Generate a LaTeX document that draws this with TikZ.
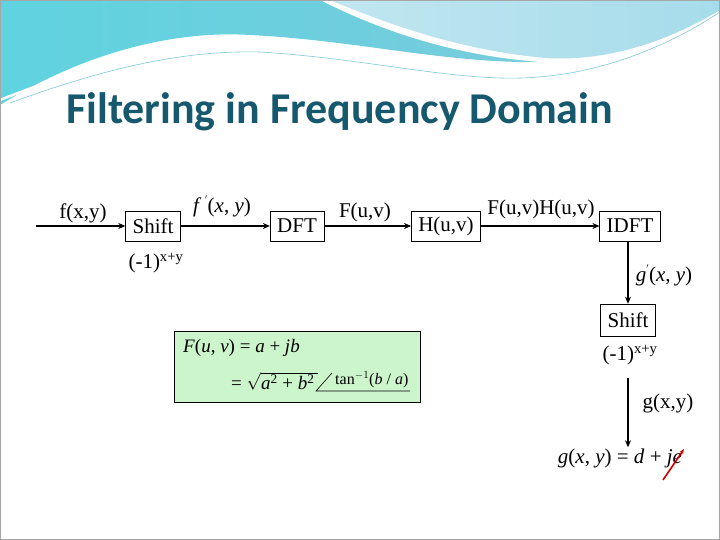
\documentclass[tikz,border=0pt]{standalone}
\usepackage{fontspec}
\setmainfont{Liberation Serif}
\newfontfamily\titlefont{Carlito}
\usetikzlibrary{arrows.meta}
\definecolor{titlec}{HTML}{16586E}
\definecolor{wave1}{HTML}{7FC9DA}
\definecolor{wave2}{HTML}{5FD3E0}
\definecolor{wave3}{HTML}{A6DCEA}
\definecolor{greenbg}{HTML}{CCF5CC}
\newcommand{\iv}[1]{\textit{#1}}
\tikzset{
  blk/.style={draw, line width=0.5pt, minimum height=30pt, inner ysep=3pt, inner xsep=7pt, font=\fontsize{21}{24}\selectfont},
  lbl/.style={font=\fontsize{21}{24}\selectfont, inner sep=1pt},
  eqt/.style={font=\fontsize{19}{21}\selectfont, inner sep=1pt},
  flow/.style={line width=1.6pt, -{Stealth[length=7pt,width=6pt]}},
}
\begin{document}
\begin{tikzpicture}[x=1pt,y=-1pt]
\useasboundingbox (0,0) rectangle (720,540);
\fill[white] (0,0) rectangle (720,540);
% top wave decoration
\shade[left color=wave2, right color=wave1] (0,0) -- (0,105) .. controls (80,55) and (170,30) .. (250,35) .. controls (350,40) and (430,60) .. (520,62) .. controls (600,63) and (680,40) .. (720,18) -- (720,0) -- cycle;
\fill[white] (320,0) .. controls (380,30) and (450,55) .. (540,62) .. controls (600,66) and (660,50) .. (720,22) -- (720,0) -- cycle;
\shade[left color=wave3!70!white, right color=wave3] (330,0) .. controls (390,25) and (460,50) .. (545,58) .. controls (610,62) and (670,40) .. (720,10) -- (720,0) -- cycle;
\draw[white, line width=2.5pt] (0,100) .. controls (100,60) and (180,45) .. (260,50) .. controls (360,58) and (450,78) .. (520,76) .. controls (600,74) and (670,45) .. (720,15);
\draw[wave1, line width=0.6pt] (10,103) .. controls (100,70) and (180,50) .. (260,52) .. controls (360,58) and (450,80) .. (520,78) .. controls (600,76) and (670,45) .. (720,12);
\draw[gray!70, line width=0.8pt] (0.4,0.4) rectangle (719.6,539.6);
% title
\node[anchor=west, text=titlec, font=\titlefont\bfseries\fontsize{44}{48}\selectfont, inner sep=0pt] (title) at (66,112) {Filtering in Frequency Domain};
% blocks
\coordinate (in) at (36,226);
\node[blk] (shift1) at (153,226) {Shift};
\node[blk] (dft) at (297,226) {DFT};
\node[blk] (huv) at (446,226) {H(u,v)};
\node[blk] (idft) at (630,226) {IDFT};
\node[blk, minimum height=32pt] (shift2) at (628,320) {Shift};
\node[lbl] (gxy) at (620,458) {\iv{g}(\iv{x}, \iv{y}) = \iv{d} + \iv{je}};
\draw[flow] (in) -- (shift1);
\draw[flow] (shift1) -- (dft);
\draw[flow] (dft) -- (huv);
\draw[flow] (huv) -- (idft);
\draw[flow] (idft.south -| shift2.north) -- (shift2);
\coordinate (s2b) at (628,378);
\draw[flow] (s2b) -- (gxy.north -| s2b);
% labels
\node[lbl] (l1) at (83,213) {f(x,y)};
\node[lbl] (l2) at (222,206) {\iv{f}\,\raisebox{1ex}{\fontsize{10}{10}\selectfont$'$}(\iv{x}, \iv{y})};
\node[lbl] (l3) at (365,212) {F(u,v)};
\node[lbl] (l4) at (541,209) {F(u,v)H(u,v)};
\node[lbl] (l5) at (156,263) {(-1)\textsuperscript{x+y}};
\node[lbl] (l6) at (664,275) {\iv{g}\raisebox{1ex}{\fontsize{10}{10}\selectfont$'$}(\iv{x}, \iv{y})};
\node[lbl] (l7) at (630,355) {(-1)\textsuperscript{x+y}};
\node[lbl] (l8) at (668,403) {g(x,y)};
% green box
\node[draw, fill=greenbg, line width=0.6pt, minimum width=246pt, minimum height=71pt] (gbox) at (297,367) {};
\node[eqt, anchor=west] (eq1) at (182,348) {\iv{F}(\iv{u}, \iv{v}) = \iv{a} + \iv{jb}};
\node[eqt, anchor=west] (eq2) at (230,381) {= $\sqrt{\mbox{\iv{a}\textsuperscript{2} + \iv{b}\textsuperscript{2}\,}}$};
\coordinate (angA) at (316,391);
\coordinate (angB) at (332,373);
\coordinate (angC) at (410,391);
\draw[line width=0.6pt] (angB) -- (angA) -- (angC);
\node[eqt, anchor=west, font=\fontsize{16}{18}\selectfont] (eq3) at (334,380) {tan\textsuperscript{$-1$}(\iv{b} / \iv{a})};
% red mark
\coordinate (r1) at (663,480);
\coordinate (r2) at (684,449);
\draw[red!80!black, line width=1.6pt, -{Stealth[length=5pt]}] (r1) -- (r2);
\end{tikzpicture}
\end{document}
